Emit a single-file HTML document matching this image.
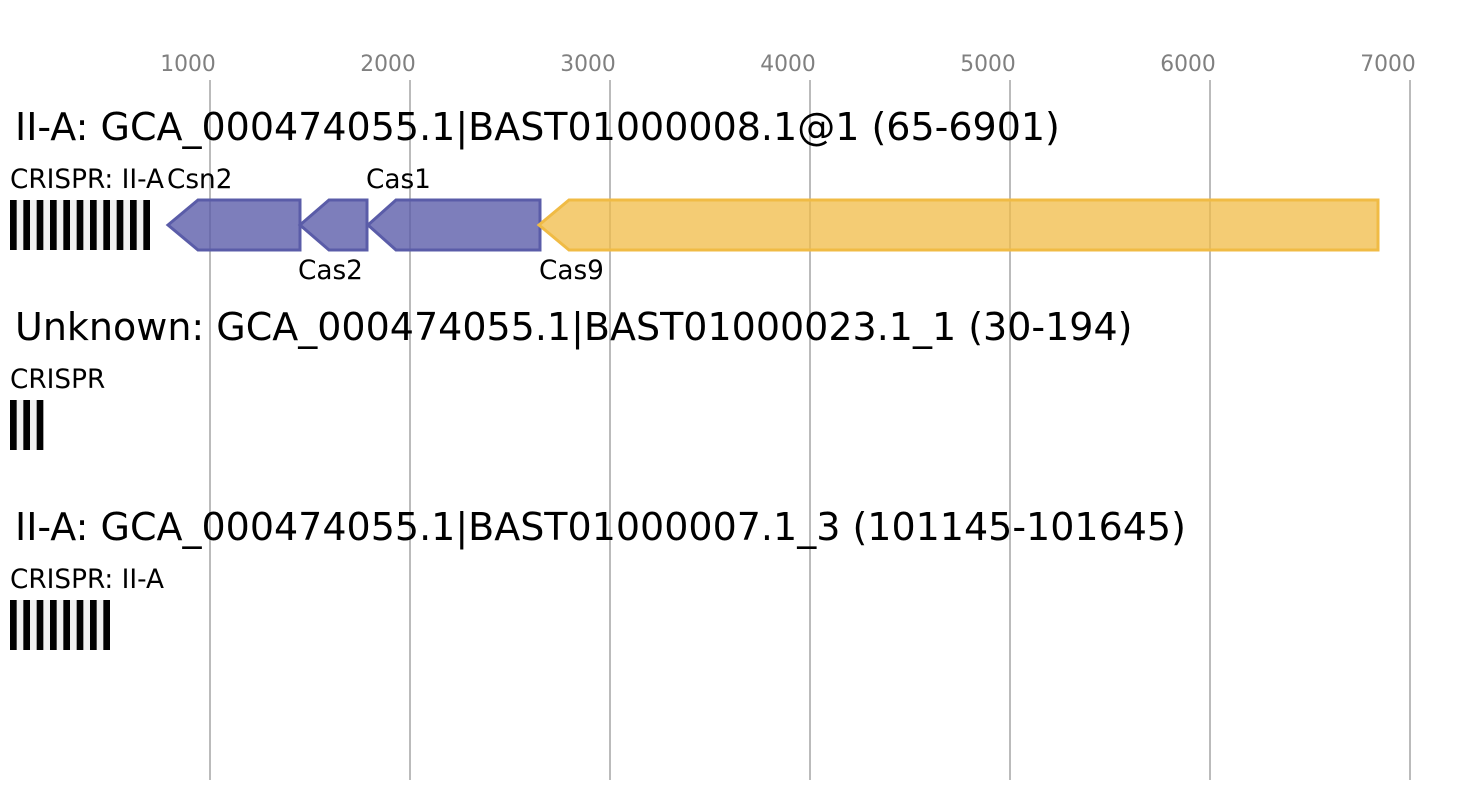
<!DOCTYPE html>
<html><head><meta charset="utf-8"><style>
html,body{margin:0;padding:0;background:#fff;}
svg{display:block;font-family:"DejaVu Sans","Liberation Sans",sans-serif;}
</style></head><body>
<svg width="1467" height="800" viewBox="0 0 1467 800" xmlns="http://www.w3.org/2000/svg">
<rect width="1467" height="800" fill="#fff"/>
<g stroke="#bbbbbb" stroke-width="2">
<line x1="210" y1="80" x2="210" y2="780"/>
<line x1="410" y1="80" x2="410" y2="780"/>
<line x1="610" y1="80" x2="610" y2="780"/>
<line x1="810" y1="80" x2="810" y2="780"/>
<line x1="1010" y1="80" x2="1010" y2="780"/>
<line x1="1210" y1="80" x2="1210" y2="780"/>
<line x1="1410" y1="80" x2="1410" y2="780"/>
</g>
<g fill="#808080" font-size="21.8" text-anchor="middle">
<text x="188" y="71">1000</text>
<text x="388" y="71">2000</text>
<text x="588" y="71">3000</text>
<text x="788" y="71">4000</text>
<text x="988" y="71">5000</text>
<text x="1188" y="71">6000</text>
<text x="1388" y="71">7000</text>
</g>
<g fill="#000" font-size="38">
<text x="15" y="140">II-A: GCA_000474055.1|BAST01000008.1@1 (65-6901)</text>
<text x="15" y="340">Unknown: GCA_000474055.1|BAST01000023.1_1 (30-194)</text>
<text x="15" y="540">II-A: GCA_000474055.1|BAST01000007.1_3 (101145-101645)</text>
</g>
<g fill="#000" font-size="26.3">
<text x="10" y="188">CRISPR: II-A</text>
<text x="167" y="188">Csn2</text>
<text x="298" y="279">Cas2</text>
<text x="366" y="188">Cas1</text>
<text x="539" y="279">Cas9</text>
<text x="10" y="388">CRISPR</text>
<text x="10" y="588">CRISPR: II-A</text>
</g>
<!-- CRISPR arrays -->
<rect x="10" y="200" width="140" height="50" fill="#f0f0f0"/>
<g fill="#000">
<rect x="10" y="200" width="6.67" height="50"/>
<rect x="23.33" y="200" width="6.67" height="50"/>
<rect x="36.67" y="200" width="6.67" height="50"/>
<rect x="50" y="200" width="6.67" height="50"/>
<rect x="63.33" y="200" width="6.67" height="50"/>
<rect x="76.67" y="200" width="6.67" height="50"/>
<rect x="90" y="200" width="6.67" height="50"/>
<rect x="103.33" y="200" width="6.67" height="50"/>
<rect x="116.67" y="200" width="6.67" height="50"/>
<rect x="130" y="200" width="6.67" height="50"/>
<rect x="143.33" y="200" width="6.67" height="50"/>
</g>
<rect x="10" y="400" width="33.4" height="50" fill="#f0f0f0"/>
<g fill="#000">
<rect x="10" y="400" width="6.67" height="50"/>
<rect x="23.33" y="400" width="6.67" height="50"/>
<rect x="36.67" y="400" width="6.67" height="50"/>
</g>
<rect x="10" y="600" width="100" height="50" fill="#f0f0f0"/>
<g fill="#000">
<rect x="10" y="600" width="6.67" height="50"/>
<rect x="23.33" y="600" width="6.67" height="50"/>
<rect x="36.67" y="600" width="6.67" height="50"/>
<rect x="50" y="600" width="6.67" height="50"/>
<rect x="63.33" y="600" width="6.67" height="50"/>
<rect x="76.67" y="600" width="6.67" height="50"/>
<rect x="90" y="600" width="6.67" height="50"/>
<rect x="103.33" y="600" width="6.67" height="50"/>
</g>
<!-- genes -->
<g stroke="#5a5ca8" stroke-width="3" fill="rgb(88,90,168)" fill-opacity="0.78" stroke-linejoin="miter">
<polygon points="168,225 198,200 300,200 300,250 198,250"/>
<polygon points="300,225 329,200 367,200 367,250 329,250"/>
<polygon points="368,225 396,200 540,200 540,250 396,250"/>
</g>
<polygon points="539,225 569,200 1378,200 1378,250 569,250" stroke="#f0bb45" stroke-width="3" fill="rgb(240,187,69)" fill-opacity="0.75"/>
</svg>
</body></html>
